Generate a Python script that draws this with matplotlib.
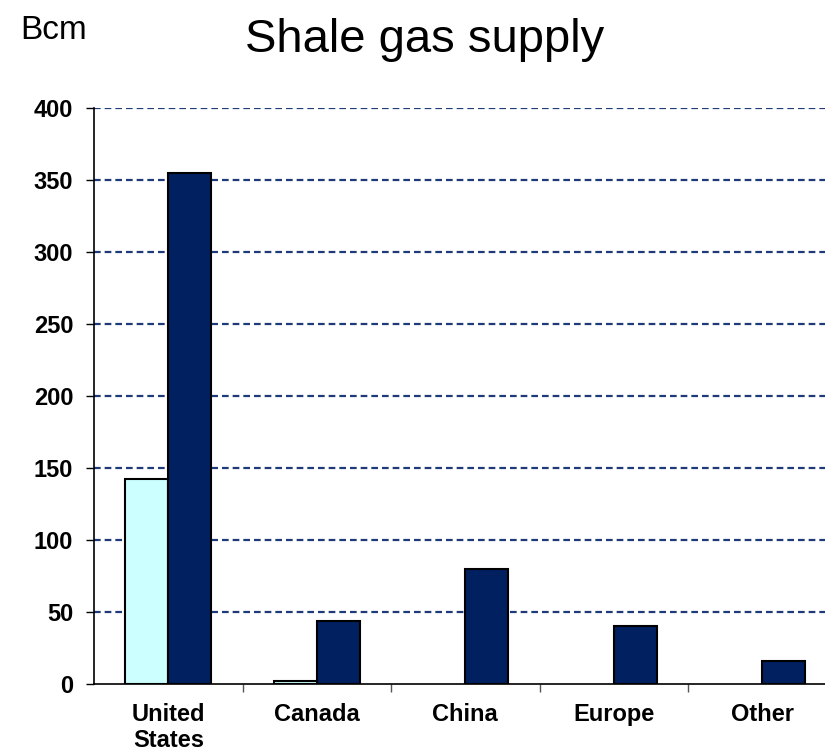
import numpy as np
import matplotlib
matplotlib.use("Agg")
import matplotlib.pyplot as plt

plt.rcParams["font.family"] = ["Liberation Sans", "DejaVu Sans"]

# values (Bcm)
regions = ["United\nStates", "Canada", "China", "Europe", "Other"]
supply_2010 = [142, 2, 0, 0, 0]
supply_2035 = [355, 44, 80, 40, 16]

LIGHT = "#ccffff"
NAVY = "#002060"
GRID = "#1f3a7a"

fig = plt.figure(figsize=(8.25, 7.54), dpi=100)
# the plot area runs a little past the right edge of the picture
ax = fig.add_axes([0.114, 0.093, 0.9, 0.764])

x = np.arange(len(regions))
w = 0.29
lw_light = [1.5 if v > 0 else 0 for v in supply_2010]
ax.bar(x - w / 2, supply_2010, w, color=LIGHT, edgecolor="black", linewidth=lw_light, zorder=3)
ax.bar(x + w / 2, supply_2035, w, color=NAVY, edgecolor="black", linewidth=1.5, zorder=3)

ax.set_xlim(-0.5, len(regions) - 0.5)
ax.set_ylim(0, 400)
ax.set_yticks(range(0, 401, 50))
for v in range(50, 401, 50):
    ax.axhline(v, color=GRID, linestyle=(0, (3, 1.8)), linewidth=1.6, zorder=1)

# category labels at centres, tick marks at the boundaries
ax.set_xticks(x)
ax.set_xticklabels(regions, fontsize=17, fontweight="bold", linespacing=1.15)
ax.tick_params(axis="x", length=0, pad=14)
ax.set_xticks(np.arange(0.5, len(regions) - 1, 1), minor=True)
ax.tick_params(axis="x", which="minor", length=6, width=1, color="#555555", direction="out")
ax.tick_params(axis="y", length=6, width=1, direction="out", labelsize=17, pad=9)
for lab in ax.get_yticklabels():
    lab.set_fontweight("bold")

for s in ("top", "right"):
    ax.spines[s].set_visible(False)
for s in ("left", "bottom"):
    ax.spines[s].set_linewidth(1.2)

fig.text(0.515, 0.947, "Shale gas supply", fontsize=34, ha="center", va="center")
fig.text(0.024, 0.96, "Bcm", fontsize=24, ha="left", va="center")

fig.savefig("out.png", dpi=100)
